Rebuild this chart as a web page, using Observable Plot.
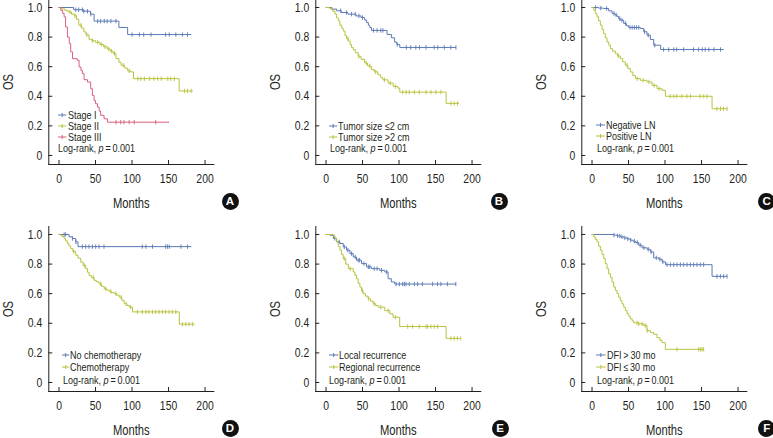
<!DOCTYPE html>
<html>
<head>
<meta charset="utf-8">
<script src="https://cdn.jsdelivr.net/npm/d3@7"></script>
<script src="https://cdn.jsdelivr.net/npm/@observablehq/plot@0.6"></script>
<style>
  html, body { margin: 0; padding: 0; background: #fff; }
  #root { position: relative; width: 773px; height: 438px; overflow: hidden; background: #fff; }
  .panel { position: absolute; width: 245px; height: 240px; }
  .panel svg { position: absolute; left: 0; top: 0; overflow: visible; }
  .panel svg g[aria-label$="axis label"] { font-size: 14px; }
  .leg { position: absolute; font-family: "Liberation Sans Narrow", "Arial Narrow", "Liberation Sans", Arial, sans-serif; font-size: 11px; line-height: 14px; color: #231f20; white-space: nowrap; transform: scaleX(0.82); transform-origin: 0 50%; }
  .mk { position: absolute; }
  .badge { position: absolute; width: 17px; height: 17px; border-radius: 50%; background: #111; color: #fff;
           font-family: "Liberation Sans", Arial, sans-serif; font-weight: bold; font-size: 11.5px; line-height: 17px; text-align: center; }
</style>
</head>
<body>
<div id="root"></div>
<script>
// ---------------- data ----------------
const xTicks = [0, 50, 100, 150, 200];
const yTicks = [0, 0.2, 0.4, 0.6, 0.8, 1.0];
const pText = "Log-rank, ";

// Panel A
const stageI = [[0,1],[20,0.985],[33,0.975],[43,0.955],[48,0.908],[82,0.865],[94,0.817],[181,0.817]];
const stageICens = [23,27,32,34,39,43.5,53,57,62,66,71,78,100,110,116,126,146,151,160,169,176];
const stageII = [[0,1],[3,0.99],[8,0.98],[12,0.97],[17,0.955],[21,0.945],[24,0.92],[27,0.88],[31,0.86],[34,0.835],[37,0.815],[41,0.785],[45,0.775],[50,0.765],[56,0.75],[61,0.735],[66,0.72],[70,0.705],[74,0.69],[78,0.655],[82,0.63],[85,0.61],[90,0.59],[94,0.572],[98,0.565],[102,0.519],[164.5,0.436],[183,0.436]];
const stageIICens = [15,22,30,38,46,53,58,63,68,72,76,88,96,108,112,117,124,130,135,140,149,153,158,172,176,181];
const stageIII = [[0,1],[2.5,0.98],[5,0.96],[7,0.937],[9,0.869],[11.5,0.80],[14,0.756],[16,0.70],[18.5,0.654],[25,0.643],[27.5,0.598],[30,0.575],[32,0.553],[34.3,0.512],[39,0.496],[43.4,0.451],[45.7,0.406],[48,0.372],[50,0.35],[52.6,0.327],[55,0.30],[57,0.271],[61.7,0.248],[66.3,0.225],[150.7,0.225]];
const stageIIICens = [78,84.5,89,96,103,132.5];

// Panel B
const sizeSmall = [[0,1],[8,0.989],[14.5,0.978],[21,0.966],[30,0.955],[41,0.943],[48,0.932],[53,0.915],[55.5,0.898],[58,0.88],[60,0.864],[62.3,0.845],[83.6,0.818],[89.5,0.795],[94,0.766],[97,0.75],[101,0.73],[178,0.73]];
const sizeSmallCens = [20,28,35,40,45,50,65,70,75,78,97.5,110,116,123,128,137,148,153,162,171,178];
const sizeLarge = [[0,1],[5.5,0.99],[9,0.975],[12.3,0.955],[14.5,0.93],[16.8,0.909],[19,0.88],[21.5,0.86],[23.6,0.841],[26,0.81],[28,0.79],[30.5,0.773],[33,0.75],[35,0.73],[37.3,0.716],[40,0.695],[44,0.67],[48,0.65],[53,0.625],[57,0.605],[62,0.58],[66,0.565],[71,0.545],[75,0.525],[78,0.511],[85,0.489],[92,0.466],[98.6,0.455],[101,0.428],[164.5,0.352],[182,0.352]];
const sizeLargeCens = [30,45,55,60,68,80,88,95,105,109.6,114,121,127.7,137,143.7,150.5,157.3,171,175.5,180];

// Panel C
const lnNeg = [[0,1],[9,0.996],[16,0.993],[22.8,0.977],[27.4,0.96],[31,0.95],[34.2,0.94],[36.5,0.925],[38.8,0.914],[43.4,0.892],[47,0.877],[50.2,0.865],[66.2,0.858],[70.8,0.836],[75.3,0.813],[79.9,0.784],[84.5,0.745],[94,0.716],[180,0.716]];
const lnNegCens = [5,12,20,30,33,38,41,46,52,55,58,61,64,72,77,86,98,105,112,116,125.5,139,146,151,155,160,167,176];
const lnPos = [[0,1],[2.3,0.982],[4.5,0.96],[6.8,0.937],[9,0.91],[11.4,0.88],[13.7,0.852],[16,0.824],[18.2,0.795],[20.5,0.767],[23,0.745],[25.1,0.722],[28,0.705],[32,0.688],[35,0.672],[38.8,0.655],[42,0.632],[45.7,0.61],[49,0.587],[52.5,0.564],[56,0.54],[59.4,0.519],[66.2,0.508],[75.3,0.497],[82.2,0.474],[89,0.451],[95.9,0.44],[100.5,0.40],[164.4,0.316],[185,0.316]];
const lnPosCens = [36,48,62,70,78,85,92,107,112,116,123,130,135,148,153,157.5,171,176,180,185];

// Panel D
const noChemo = [[0,1],[13.7,0.984],[18.3,0.973],[22.9,0.95],[26,0.918],[181,0.918]];
const noChemoCens = [7,9,18.4,23,32,36.6,41,45.7,50.3,54.8,61.6,114,119,128,146,148.5,151,167,176];
const chemo = [[0,1],[2.3,0.995],[4.5,0.985],[6.9,0.973],[9,0.957],[11.4,0.939],[13.7,0.922],[16,0.905],[19,0.885],[22.9,0.86],[26,0.84],[29.7,0.814],[33,0.79],[36.6,0.769],[39,0.745],[41.2,0.724],[44,0.71],[48,0.69],[51,0.68],[54.9,0.667],[58,0.65],[61.8,0.633],[65,0.625],[68.6,0.615],[72,0.608],[75.5,0.6],[79,0.59],[82.4,0.577],[86,0.555],[89.2,0.532],[93,0.52],[96.1,0.509],[100.7,0.477],[164.8,0.394],[185.4,0.394]];
const chemoCens = [20,35,47,57,64,71,78,85,92,98,107.4,114,119,123,128,132.5,137,141.6,146,150.7,155.3,160,169,173.6,178,182.7];

// Panel E
const localRec = [[0,1],[5.5,0.995],[10,0.973],[14.5,0.95],[19.1,0.939],[23.6,0.916],[28.2,0.894],[32.7,0.871],[37.3,0.848],[41.8,0.826],[48.6,0.803],[55.5,0.781],[62.3,0.769],[73.6,0.758],[80.5,0.747],[85,0.701],[89.5,0.679],[94.1,0.665],[178,0.665]];
const localRecCens = [12,18,25,30,35,40,44,46,52,58,60,66,70,76,83,96,100.5,105,107.3,109.6,114,121,125.5,132,146,152.7,157.3,166.3,177.8];
const regionalRec = [[0,1],[10,0.995],[12,0.975],[14.5,0.95],[16.8,0.92],[19.1,0.894],[21.3,0.865],[23.6,0.837],[27,0.80],[30.5,0.769],[37.3,0.747],[39.5,0.725],[41.8,0.701],[44,0.67],[46.4,0.645],[48.6,0.62],[50.9,0.6],[54,0.583],[57.7,0.566],[61,0.55],[64.5,0.532],[68,0.52],[71.4,0.509],[80.5,0.486],[87.3,0.464],[91.8,0.441],[100.9,0.378],[164.5,0.298],[184,0.298]];
const regionalRecCens = [25,33,50,58,66,75,85,95,111.8,118.6,127.7,137,139,143.7,148.2,152.7,171,175.5,180,184.6];

// Panel F
const dfiLong = [[0,1],[29.7,0.996],[34.2,0.991],[39,0.984],[43.4,0.977],[48,0.97],[52.5,0.962],[56,0.955],[59.4,0.946],[63.9,0.928],[68.5,0.91],[75.3,0.9],[79.9,0.882],[84.5,0.842],[91.3,0.833],[95.9,0.815],[100.5,0.796],[164.4,0.717],[185,0.717]];
const dfiLongCens = [30,35,38,41,45,49,53,58,62,66,71,77,81,88,93,97,102.7,107.3,111.8,116.4,121,125.5,130.1,134.7,139.2,143.8,148.4,152.9,171.2,175.8,180.3,184.9];
const dfiShort = [[0,1],[2.3,0.984],[4.5,0.967],[6.8,0.95],[9,0.922],[11.4,0.894],[13.7,0.866],[16,0.837],[18.2,0.803],[20.5,0.769],[22.8,0.735],[25.1,0.71],[27.4,0.678],[29.7,0.645],[32,0.622],[34.2,0.6],[36.5,0.577],[38.8,0.554],[41,0.531],[43.4,0.509],[45.7,0.486],[48,0.464],[50.3,0.447],[52.5,0.43],[55,0.415],[57.1,0.403],[63.9,0.396],[70.8,0.385],[75.3,0.35],[80,0.338],[84.4,0.326],[89,0.303],[93,0.285],[95.9,0.269],[100.4,0.224],[152.9,0.224]];
const dfiShortCens = [61.6,64,68.5,73,75.5,116.4,146.1,148.4,150.7,152.9];

// ---------------- styling / layout ----------------
const BLUE = "#5b79b4", GREEN = "#b9c23e", PINK = "#d9607f";
const FONT = '"Liberation Sans Narrow", "Arial Narrow", "Liberation Sans", Arial, sans-serif';

const panels = [
  {letter: "A", left: 0, top: -10, series: [
    {name: "Stage I", pts: stageI, cens: stageICens, color: BLUE},
    {name: "Stage II", pts: stageII, cens: stageIICens, color: GREEN},
    {name: "Stage III", pts: stageIII, cens: stageIIICens, color: PINK}],
   legY: [125, 136, 147.3, 158.3], mX: 58.3, tX: 67.7, lX: 58.3, bX: 230},
  {letter: "B", left: 266.5, top: -10, series: [
    {name: "Tumor size \u22642 cm", pts: sizeSmall, cens: sizeSmallCens, color: BLUE},
    {name: "Tumor size >2 cm", pts: sizeLarge, cens: sizeLargeCens, color: GREEN}],
   legY: [136, 147, 158.3], mX: 62.5, tX: 71.8, lX: 63.5, bX: 232.5},
  {letter: "C", left: 533, top: -10, series: [
    {name: "Negative LN", pts: lnNeg, cens: lnNegCens, color: BLUE},
    {name: "Positive LN", pts: lnPos, cens: lnPosCens, color: GREEN}],
   legY: [135.3, 146.3, 158.3], mX: 63, tX: 73, lX: 63.7, bX: 233.7},
  {letter: "D", left: 0, top: 216.7, series: [
    {name: "No chemotherapy", pts: noChemo, cens: noChemoCens, color: BLUE},
    {name: "Chemotherapy", pts: chemo, cens: chemoCens, color: GREEN}],
   legY: [138.6, 150.6, 163], mX: 61.7, tX: 70, lX: 63.3, bX: 230},
  {letter: "E", left: 266.5, top: 216.7, series: [
    {name: "Local recurrence", pts: localRec, cens: localRecCens, color: BLUE},
    {name: "Regional recurrence", pts: regionalRec, cens: regionalRecCens, color: GREEN}],
   legY: [138, 150.3, 163], mX: 62.5, tX: 72.8, lX: 62.5, bX: 233.5},
  {letter: "F", left: 533, top: 216.7, series: [
    {name: "DFI\u2009>\u200930 mo", pts: dfiLong, cens: dfiLongCens, color: BLUE},
    {name: "DFI\u2009\u2264\u200930 mo", pts: dfiShort, cens: dfiShortCens, color: GREEN}],
   legY: [138.6, 150, 163], mX: 63, tX: 73.7, lX: 63.7, bX: 233.7}
];

const survAt = (pts, t) => { let s = pts[0][1]; for (const [tt, v] of pts) { if (tt <= t) s = v; else break; } return s; };
const vtick = { draw(ctx, size) { const h = Math.sqrt(size / Math.PI); ctx.moveTo(0, -h); ctx.lineTo(0, h); } };

const root = document.getElementById("root");

for (const p of panels) {
  const div = document.createElement("div");
  div.className = "panel";
  div.style.left = p.left + "px";
  div.style.top = p.top + "px";

  const marks = [];
  for (const s of p.series) {
    marks.push(Plot.line(s.pts, {x: d => d[0], y: d => d[1], curve: "step-after", stroke: s.color, strokeWidth: 1}));
    const cd = s.cens.map(t => ({t, s: survAt(s.pts, t)}));
    marks.push(Plot.dot(cd, {x: "t", y: "s", symbol: vtick, r: 2.2, stroke: s.color, fill: "none", strokeWidth: 0.9}));
  }

  const svg = Plot.plot({
    width: 240, height: 240,
    marginLeft: 48.3, marginRight: 26.7, marginTop: 9, marginBottom: 66,
    style: {fontFamily: FONT, fontSize: "13px", color: "#231f20", background: "transparent", overflow: "visible"},
    x: {domain: [-14, 212], ticks: xTicks, tickSize: -4, tickPadding: 13, line: true,
        label: "Months", labelAnchor: "center", labelOffset: 43, labelArrow: "none"},
    y: {domain: [-0.061, 1.054], ticks: yTicks, tickFormat: d => d === 0 ? "0" : d.toFixed(1),
        tickSize: -4, tickPadding: 10.6, line: true,
        label: "OS", labelAnchor: "center", labelOffset: 46, labelArrow: "none"},
    marks
  });
  div.appendChild(svg);

  // legend
  p.series.forEach((s, i) => {
    const cy = p.legY[i];
    const mk = document.createElementNS("http://www.w3.org/2000/svg", "svg");
    mk.setAttribute("class", "mk");
    mk.setAttribute("width", "10"); mk.setAttribute("height", "8");
    mk.style.left = p.mX + "px"; mk.style.top = (cy - 4) + "px";
    mk.innerHTML = `<line x1="0" x2="${p.tX - p.mX - 1}" y1="4" y2="4" stroke="${s.color}" stroke-width="1"/>` +
      `<line x1="${(p.tX - p.mX - 1) / 2}" x2="${(p.tX - p.mX - 1) / 2}" y1="2" y2="6" stroke="${s.color}" stroke-width="1"/>`;
    div.appendChild(mk);
    const t = document.createElement("div");
    t.className = "leg";
    t.style.left = p.tX + "px"; t.style.top = (cy - 7) + "px";
    t.textContent = s.name;
    div.appendChild(t);
  });
  const lr = document.createElement("div");
  lr.className = "leg";
  lr.style.left = p.lX + "px"; lr.style.top = (p.legY[p.legY.length - 1] - 7) + "px";
  lr.innerHTML = pText + "<i>p</i>\u2009=\u20090.001";
  div.appendChild(lr);

  const b = document.createElement("div");
  b.className = "badge";
  b.style.left = (p.bX - 8.5) + "px"; b.style.top = (211.7 - 8.5) + "px";
  b.textContent = p.letter;
  div.appendChild(b);

  root.appendChild(div);

  // condense the axis texts to match the narrow typeface of the reference
  svg.querySelectorAll("text").forEach(t => {
    const len = t.getComputedTextLength();
    if (len > 0) {
      t.setAttribute("textLength", (len * 0.8).toFixed(2));
      t.setAttribute("lengthAdjust", "spacingAndGlyphs");
    }
  });
}
</script>
</body>
</html>
